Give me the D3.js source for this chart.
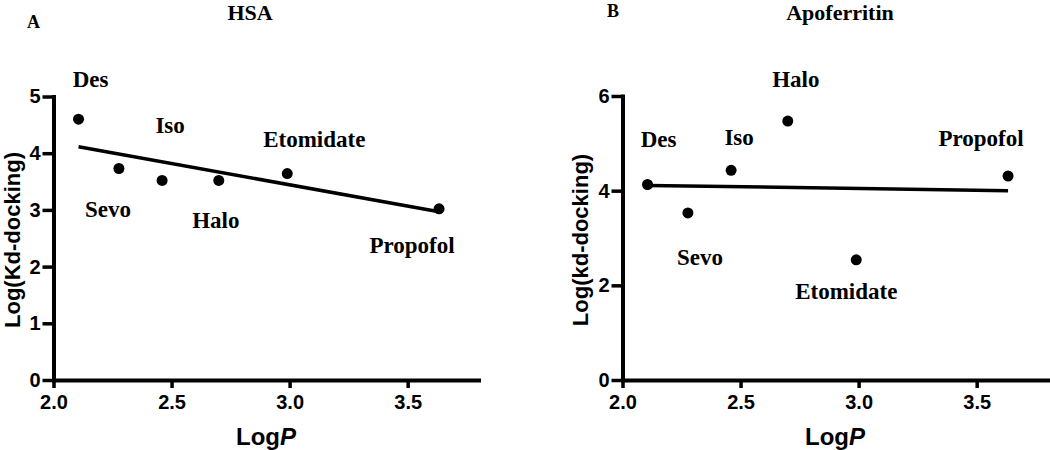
<!DOCTYPE html>
<html>
<head>
<meta charset="utf-8">
<script src="https://cdn.jsdelivr.net/npm/d3@7"></script>
<style>
  body { margin: 0; background: #fff; }
  svg { display: block; }
</style>
</head>
<body>
<script>
// data
let drugs = ["Des", "Sevo", "Iso", "Halo", "Etomidate", "Propofol"];
let logP = [2.106, 2.277, 2.46, 2.70, 2.99, 3.633];
let hsaKd = [4.60, 3.73, 3.52, 3.52, 3.64, 3.02];
let apoKd = [4.13, 3.53, 4.43, 5.47, 2.54, 4.31];
let xTicks = [2.0, 2.5, 3.0, 3.5];
let hsaYTicks = [0, 1, 2, 3, 4, 5];
let apoYTicks = [0, 2, 4, 6];

let w = 1050;
let h = 450;

let svg = d3.select("body")
  .append("svg")
  .attr("width", w)
  .attr("height", h);

// label offsets (px) from each point: [dx, dy] of label centre/baseline
let hsaLabelPos = [[12, -32], [-11, 48], [8, -47], [-3, 48], [27, -27], [-27, 44]];
let apoLabelPos = [[11, -38], [12, 52], [8, -25], [8, -34], [-10, 39], [-27, -30]];

function fit(xs, ys) {
  let mx = d3.mean(xs), my = d3.mean(ys);
  let sxy = d3.sum(xs, (x, i) => (x - mx) * (ys[i] - my));
  let sxx = d3.sum(xs, x => (x - mx) * (x - mx));
  let b = sxy / sxx;
  return x => my + b * (x - mx);
}

function drawPanel(opt) {
  let xScale = d3.scaleLinear().domain([2, 3.8]).range([opt.left, opt.left + 425]);
  let yScale = d3.scaleLinear().domain([0, opt.yMax]).range([380, opt.top]);

  let g = svg.append("g");

  let xAxis = d3.axisBottom(xScale).tickValues(xTicks).tickFormat(d3.format(".1f"))
    .tickSize(8).tickSizeOuter(0).tickPadding(7);
  let yAxis = d3.axisLeft(yScale).tickValues(opt.yTicks).tickFormat(d3.format("d"))
    .tickSize(11).tickSizeOuter(0).tickPadding(2);

  let gx = g.append("g")
    .attr("transform", "translate(0,380)")
    .call(xAxis);
  let gy = g.append("g")
    .attr("transform", "translate(" + opt.left + ",0)")
    .call(yAxis);

  [gx, gy].forEach(a => {
    a.select(".domain").attr("stroke", "#000").attr("stroke-width", 4).attr("stroke-linecap", "square");
    a.selectAll(".tick line").attr("stroke", "#000").attr("stroke-width", 3.5);
    a.selectAll(".tick text")
      .attr("fill", "#000")
      .style("font-family", "'Liberation Sans', Arial, sans-serif")
      .style("font-weight", "bold")
      .style("font-size", "20px");
  });

  // regression line
  let f = fit(logP, opt.values);
  let x0 = d3.min(logP), x1 = d3.max(logP);
  g.append("line")
    .attr("x1", xScale(x0)).attr("y1", yScale(f(x0)))
    .attr("x2", xScale(x1)).attr("y2", yScale(f(x1)))
    .attr("stroke", "#000")
    .attr("stroke-width", 3.5);

  g.selectAll("circle")
    .data(opt.values)
    .enter()
    .append("circle")
    .attr("cx", (d, i) => xScale(logP[i]))
    .attr("cy", d => yScale(d))
    .attr("r", 5.5)
    .attr("fill", "#000");

  g.selectAll(".drug")
    .data(drugs)
    .enter()
    .append("text")
    .attr("class", "drug")
    .attr("x", (d, i) => xScale(logP[i]) + opt.labelPos[i][0])
    .attr("y", (d, i) => yScale(opt.values[i]) + opt.labelPos[i][1])
    .attr("text-anchor", "middle")
    .style("font-family", "'Liberation Serif', 'Times New Roman', serif")
    .style("font-weight", "bold")
    .style("font-size", "23px")
    .text(d => d);

  // titles
  g.append("text")
    .attr("x", opt.titleX)
    .attr("y", 20)
    .attr("text-anchor", "middle")
    .style("font-family", "'Liberation Serif', 'Times New Roman', serif")
    .style("font-weight", "bold")
    .style("font-size", "22px")
    .text(opt.title);

  g.append("text")
    .attr("x", opt.letterX)
    .attr("y", opt.letterY)
    .style("font-family", "'Liberation Serif', 'Times New Roman', serif")
    .style("font-weight", "bold")
    .style("font-size", "18px")
    .text(opt.letter);

  let xl = g.append("text")
    .attr("x", (xScale.range()[0] + xScale.range()[1]) / 2)
    .attr("y", 445)
    .attr("text-anchor", "middle")
    .style("font-family", "'Liberation Sans', Arial, sans-serif")
    .style("font-weight", "bold")
    .style("font-size", "24px");
  xl.append("tspan").text("Log");
  xl.append("tspan").style("font-style", "italic").text("P");

  g.append("text")
    .attr("transform", "translate(" + opt.yLabelX + "," + 240 + ") rotate(-90)")
    .attr("text-anchor", "middle")
    .style("font-family", "'Liberation Sans', Arial, sans-serif")
    .style("font-weight", "bold")
    .style("font-size", "22px")
    .text(opt.yLabel);
}

drawPanel({
  left: 53.5, top: 96.5, yMax: 5, yTicks: hsaYTicks, values: hsaKd,
  labelPos: hsaLabelPos, title: "HSA", titleX: 250, letter: "A", letterX: 27, letterY: 28,
  yLabel: "Log(Kd-docking)", yLabelX: 20
});

drawPanel({
  left: 622.5, top: 96, yMax: 6, yTicks: apoYTicks, values: apoKd,
  labelPos: apoLabelPos, title: "Apoferritin", titleX: 840, letter: "B", letterX: 607, letterY: 17,
  yLabel: "Log(kd-docking)", yLabelX: 588
});
</script>
</body>
</html>
